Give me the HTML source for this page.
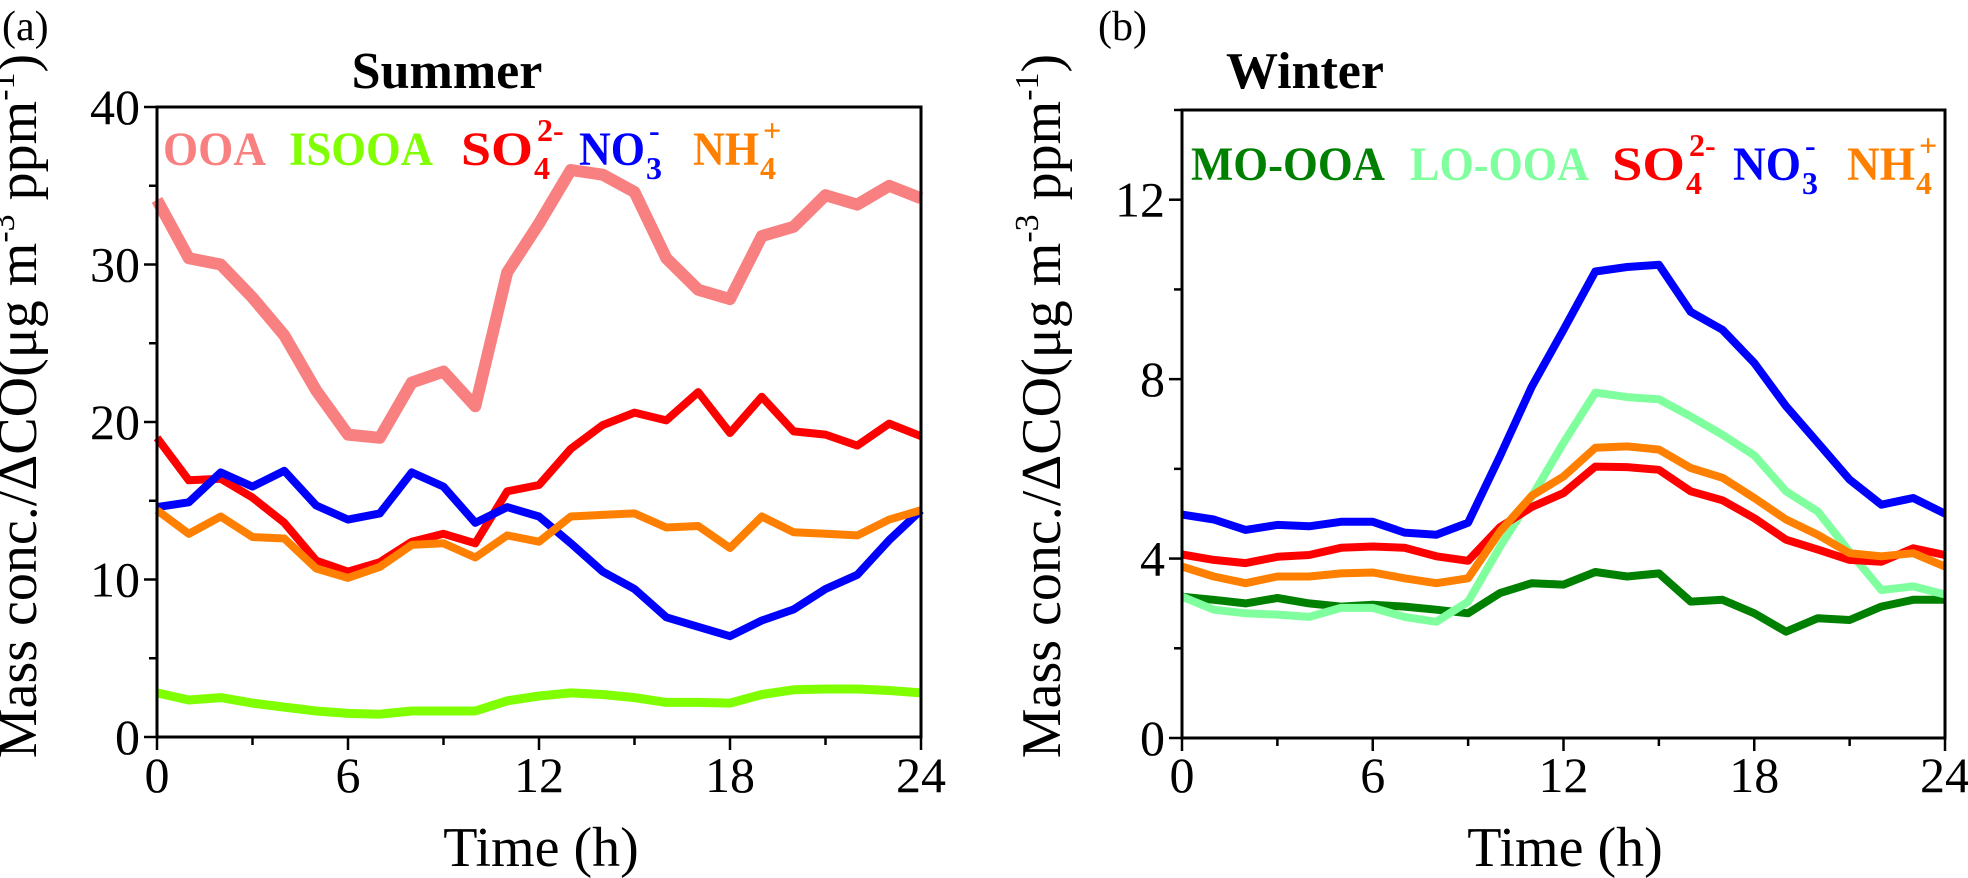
<!DOCTYPE html>
<html><head><meta charset="utf-8"><style>
html,body{margin:0;padding:0;background:#fff;}
svg{display:block;}
svg text{font-family:"Liberation Serif","DejaVu Serif",serif;}
</style></head><body>
<svg id="chart" width="1968" height="878" viewBox="0 0 1968 878" xmlns="http://www.w3.org/2000/svg" font-family="Liberation Serif, serif"></svg>
<script>
const hours = [0,1,2,3,4,5,6,7,8,9,10,11,12,13,14,15,16,17,18,19,20,21,22,23,24];
const xTicks = [0,6,12,18,24];
const yTicksA = [0,10,20,30,40];
const yTicksB = [0,4,8,12];
// Summer
const sOOA = [34.1,30.4,30.0,27.9,25.5,22.0,19.2,19.0,22.5,23.2,21.0,29.5,32.6,36.0,35.7,34.6,30.4,28.4,27.8,31.8,32.4,34.4,33.8,35.0,34.2];
const sISOOA = [2.8,2.35,2.5,2.15,1.9,1.65,1.5,1.45,1.65,1.65,1.65,2.3,2.6,2.8,2.7,2.5,2.2,2.2,2.15,2.7,3.0,3.05,3.05,2.95,2.8];
const sSO4 = [19.0,16.3,16.4,15.2,13.6,11.2,10.5,11.1,12.4,12.9,12.3,15.6,16.0,18.3,19.8,20.6,20.1,21.9,19.3,21.6,19.4,19.2,18.5,19.9,19.1];
const sNO3 = [14.6,14.9,16.8,15.9,16.9,14.7,13.8,14.2,16.8,15.9,13.6,14.6,14.0,12.3,10.5,9.4,7.6,7.0,6.4,7.4,8.1,9.4,10.3,12.5,14.4];
const sNH4 = [14.4,12.9,14.0,12.7,12.6,10.7,10.1,10.8,12.2,12.3,11.4,12.8,12.4,14.0,14.1,14.2,13.3,13.4,12.0,14.0,13.0,12.9,12.8,13.8,14.4];
// Winter
const wMO = [3.15,3.08,3.0,3.12,3.0,2.93,2.97,2.93,2.86,2.78,3.23,3.45,3.42,3.7,3.6,3.67,3.04,3.08,2.78,2.37,2.67,2.63,2.93,3.08,3.08];
const wLO = [3.15,2.86,2.78,2.75,2.7,2.9,2.9,2.7,2.59,3.04,4.26,5.38,6.58,7.7,7.6,7.55,7.17,6.76,6.3,5.5,5.05,4.15,3.3,3.38,3.2];
const wSO4 = [4.09,3.97,3.9,4.04,4.08,4.24,4.27,4.24,4.05,3.95,4.7,5.15,5.46,6.05,6.04,5.98,5.5,5.3,4.9,4.42,4.2,3.97,3.93,4.23,4.08];
const wNO3 = [4.98,4.87,4.64,4.75,4.72,4.82,4.82,4.58,4.53,4.8,6.28,7.83,9.1,10.4,10.5,10.55,9.5,9.1,8.36,7.4,6.58,5.76,5.2,5.35,5.0];
const wNH4 = [3.82,3.6,3.45,3.6,3.6,3.67,3.69,3.56,3.45,3.56,4.6,5.4,5.83,6.47,6.5,6.43,6.02,5.8,5.35,4.87,4.53,4.12,4.05,4.12,3.82];

const NS="http://www.w3.org/2000/svg";
const svg=document.getElementById('chart');
const FF='"Liberation Serif", "DejaVu Serif", serif';
function el(tag,attrs,parent){const e=document.createElementNS(NS,tag);for(const k in attrs)e.setAttribute(k,attrs[k]);if(tag==='text')e.style.fontFamily=FF;(parent||svg).appendChild(e);return e;}

function panel(cfg){
  const g=el('g',{});
  
  
  const X=v=>cfg.x0+(v/24)*(cfg.x1-cfg.x0);
  const Y=v=>cfg.y0-(v/cfg.ymax)*(cfg.y0-cfg.y1);
  cfg.series.forEach(s=>{
    const pts=hours.map((h,i)=>X(h).toFixed(1)+','+Y(s.data[i]).toFixed(1)).join(' ');
    const p=el('polyline',{points:pts,fill:'none',stroke:s.color,'stroke-width':s.w,'stroke-linejoin':'round','stroke-linecap':'butt'},g);
    
    
  });
  const fr=el('rect',{x:cfg.x0,y:cfg.y1,width:cfg.x1-cfg.x0,height:cfg.y0-cfg.y1,fill:'none',stroke:'#000','stroke-width':3},g);
  
  
  for(let h=0;h<=24;h+=3){
    const major=h%6===0;
    el('line',{x1:X(h),x2:X(h),y1:cfg.y0,y2:cfg.y0+(major?13:8),stroke:'#000','stroke-width':2.5},g);
  }
  xTicks.forEach(t=>{
    const tx=el('text',{x:X(t),y:792,'font-size':50,'text-anchor':'middle'},g);
    tx.textContent=t;
    
    
  });
  const step=cfg.yt[1]-cfg.yt[0];
  for(let v=0;v<=cfg.ymax+1e-6;v+=step/2){
    const major=Math.abs((v/step)-Math.round(v/step))<1e-6;
    el('line',{x1:cfg.x0,x2:cfg.x0-(major?13:8),y1:Y(v),y2:Y(v),stroke:'#000','stroke-width':2.5},g);
  }
  cfg.yt.forEach(t=>{
    const tx=el('text',{x:cfg.x0-17,y:Y(t)+17,'font-size':50,'text-anchor':'end'},g);
    tx.textContent=t;
    
    
  });
  const xt=el('text',{x:cfg.xtc,y:866,'font-size':56,'text-anchor':'middle'},g);
  xt.textContent='Time (h)';
  
  
  const yt=el('text',{x:0,y:0,'font-size':56,'text-anchor':'middle',transform:`translate(${cfg.ytx},406) rotate(-90)`},g);
  yt.innerHTML='Mass conc./\u0394CO(\u03bcg m<tspan dy="-22" font-size="34">-3</tspan><tspan dy="22"> ppm</tspan><tspan dy="-22" font-size="34">-1</tspan><tspan dy="22">)</tspan>';
  
  
  const tt=el('text',{x:cfg.tc,y:88,'font-size':52,'font-weight':'bold','text-anchor':'middle'},g);
  tt.textContent=cfg.title;
  
  
  const lb=el('text',{x:cfg.lx,y:40,'font-size':42},g);
  lb.textContent=cfg.label;
  
  
  cfg.legend.forEach(L=>{
    const lg=el('g',{fill:L.color,'font-weight':'bold'},g);
    
    
    const t=el('text',{x:L.x,y:cfg.ly,'font-size':48,textLength:L.w,lengthAdjust:'spacingAndGlyphs'},lg);
    t.textContent=L.txt;
    if(L.sub){const s=el('text',{x:L.x+L.w+1,y:cfg.ly+14,'font-size':32},lg);s.textContent=L.sub;}
    if(L.sup){const s=el('text',{x:L.x+L.w+(L.sub?4:1),y:cfg.ly-24,'font-size':32},lg);s.textContent=L.sup;}
  });
}

panel({name:'panel-a-summer',x0:157,x1:921,y0:737,y1:107,ymax:40,yt:yTicksA,xtc:541,ytx:36,tc:447,title:'Summer',label:'(a)',lx:2,ly:165,
 series:[
  {id:'ooa',data:sOOA,color:'#F88080',w:12},
  {id:'isooa',data:sISOOA,color:'#80FF00',w:9},
  {id:'so4',data:sSO4,color:'#FF0000',w:8},
  {id:'no3',data:sNO3,color:'#0000FF',w:8},
  {id:'nh4',data:sNH4,color:'#FF8000',w:8}],
 legend:[
  {x:163,w:103,color:'#F88080',txt:'OOA'},
  {x:289,w:144,color:'#80FF00',txt:'ISOOA'},
  {x:461,w:72,color:'#FF0000',txt:'SO',sub:'4',sup:'2-'},
  {x:579,w:66,color:'#0000FF',txt:'NO',sub:'3',sup:'-'},
  {x:693,w:66,color:'#FF8000',txt:'NH',sub:'4',sup:'+'}]
});
panel({name:'panel-b-winter',x0:1182,x1:1945,y0:738,y1:110,ymax:14,yt:yTicksB,xtc:1565,ytx:1060,tc:1305,title:'Winter',label:'(b)',lx:1098,ly:180,
 series:[
  {id:'mo-ooa',data:wMO,color:'#008000',w:8},
  {id:'lo-ooa',data:wLO,color:'#80FF9F',w:8},
  {id:'so4',data:wSO4,color:'#FF0000',w:8},
  {id:'no3',data:wNO3,color:'#0000FF',w:8},
  {id:'nh4',data:wNH4,color:'#FF8000',w:8}],
 legend:[
  {x:1191,w:194,color:'#008000',txt:'MO-OOA'},
  {x:1410,w:179,color:'#80FF9F',txt:'LO-OOA'},
  {x:1612,w:73,color:'#FF0000',txt:'SO',sub:'4',sup:'2-'},
  {x:1733,w:68,color:'#0000FF',txt:'NO',sub:'3',sup:'-'},
  {x:1847,w:68,color:'#FF8000',txt:'NH',sub:'4',sup:'+'}]
});
</script>
</body></html>
